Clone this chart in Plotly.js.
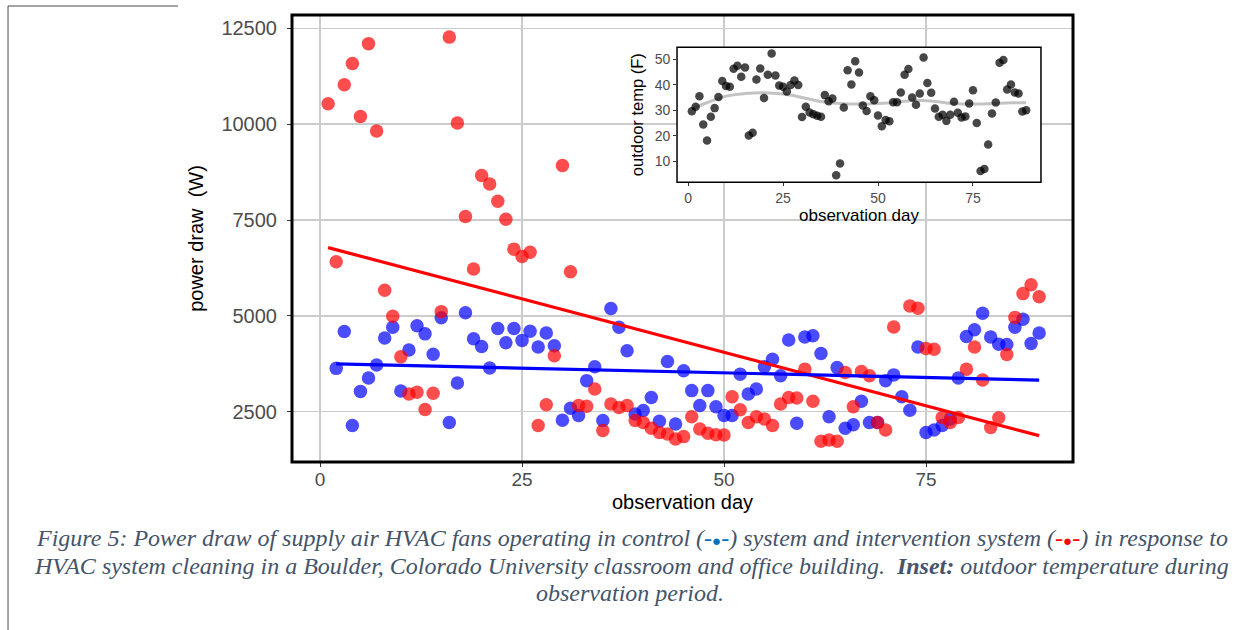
<!DOCTYPE html>
<html>
<head>
<meta charset="utf-8">
<script src="https://cdn.plot.ly/plotly-3.0.1.min.js"></script>
<style>
  html, body { margin: 0; padding: 0; background: #ffffff; }
  #chart { width: 1250px; height: 630px; }
</style>
</head>
<body>
<div id="chart"></div>
<script>
// Supply-air fan power draw, intervention system (red) by observation day
const interventionDays = [1,2,3,4,5,6,7,8,9,10,11,12,13,14,15,16,17,18,19,20,21,22,23,24,25,26,27,28,29,30,
  31,32,33,34,35,36,37,38,39,40,41,42,43,44,45,46,47,48,49,50,51,52,53,54,55,56,57,58,59,60,
  61,62,63,64,65,66,67,68,69,70,71,73,74,75,76,77,78,79,80,81,82,83,84,85,86,87,88,89];
const interventionPower = [10530,6410,11030,11580,10200,12100,9820,5670,4990,3930,2960,3010,2560,2980,5110,12270,10030,7590,6220,8660,
  8440,7990,7520,6740,6550,6660,2140,2680,3960,8920,6150,2660,2640,3090,2010,2700,2610,2660,2270,2220,
  2070,1960,1920,1790,1850,2370,2050,1940,1900,1890,2890,2550,2220,2370,2310,2140,2700,2870,2860,3610,
  2770,1730,1760,1730,3520,2630,3550,3440,2220,2020,4710,5260,5200,4150,4130,2350,2220,2350,3610,4190,
  3330,2090,2340,3990,4960,5580,5810,5500];

// Control system (blue)
const controlDays = [2,3,4,5,6,7,8,9,10,11,12,13,14,15,16,17,18,19,20,21,22,23,24,25,26,27,28,29,30,
  31,32,33,34,35,36,37,38,39,40,41,42,43,44,45,46,47,48,49,50,51,52,53,54,55,56,57,58,59,60,
  61,62,63,64,65,66,67,68,69,70,71,72,73,74,75,76,77,78,79,80,81,82,83,84,85,86,87,88,89];
const controlPower = [3630,4590,2140,3030,3380,3720,4420,4700,3040,4110,4740,4530,4000,4950,2220,3250,5080,4400,4200,3640,
  4670,4300,4670,4360,4600,4190,4550,4220,2280,2590,2400,3310,3670,2270,5190,4700,4090,2440,2530,2870,
  2250,3810,2180,3570,3050,2660,3050,2630,2400,2400,3480,2960,3090,3670,3870,3440,4370,2200,4450,4480,
  4020,2370,3650,2070,2160,2770,2220,2220,3310,3460,2890,2540,4190,1960,2020,2140,2310,3380,4460,4640,
  5070,4450,4260,4250,4700,4910,4280,4550];

// Linear trends (end points of each fitted line)
const interventionFitDays = [1, 89];
const interventionFit = [6780, 1875];
const controlFitDays = [2, 89];
const controlFit = [3745, 3325];

// Inset: outdoor temperature (F)
const tempDays = [1,2,3,4,5,6,7,8,9,10,11,12,13,14,15,16,17,18,19,20,21,22,23,24,25,26,27,28,29,30,
  31,32,33,34,35,36,37,38,39,40,41,42,43,44,45,46,47,48,49,50,51,52,53,54,55,56,57,58,59,60,
  61,62,63,64,65,66,67,68,69,70,71,72,73,74,75,76,77,78,79,80,81,82,83,84,85,86,87,88,89];
const outdoorTemp = [29.6,31.3,35.5,24.4,18.1,27.4,30.8,35.2,41.4,39.5,39.2,46.2,47.4,43.1,46.7,20.1,21.1,42.0,46.3,34.8,
  43.9,52.2,43.6,39.7,39.2,37.3,39.9,41.6,39.9,27.3,31.3,29.1,28.4,27.8,27.4,35.9,33.5,34.6,4.5,9.1,
  31.0,45.7,40.1,49.2,44.8,31.8,29.7,35.5,33.9,27.9,23.7,26.1,25.7,33.1,33.1,36.9,43.9,46.1,35.0,32.1,
  36.5,50.7,40.7,36.8,30.7,27.4,28.2,25.8,28.2,33.3,29.0,27.1,27.5,32.6,37.8,25.0,6.1,6.9,16.5,28.7,
  33.0,48.6,49.7,38.1,40.1,36.9,36.5,29.5,30.0];
const smoothDays = [1,5,10,15,20,25,30,35,40,45,50,55,60,65,70,75,80,85,89];
const smoothTemp = [30.6,32.9,35.5,36.5,36.8,36.3,35.0,33.4,32.6,32.4,32.6,33.1,33.9,33.4,32.6,32.4,32.6,32.9,32.9];

const xTicks = [0, 25, 50, 75];
const yTicks = [2500, 5000, 7500, 10000, 12500];
const insetYTicks = [10, 20, 30, 40, 50];

const RED = '#ff0000', BLUE = '#0000ff';

const traces = [
  { x: controlDays, y: controlPower, type: 'scatter', mode: 'markers',
    marker: { size: 13.5, color: 'rgba(0,0,255,0.7)', line: { width: 0 } }, hoverinfo: 'x+y' },
  { x: interventionDays, y: interventionPower, type: 'scatter', mode: 'markers',
    marker: { size: 13.5, color: 'rgba(255,0,0,0.7)', line: { width: 0 } }, hoverinfo: 'x+y' },
  { x: interventionFitDays, y: interventionFit, type: 'scatter', mode: 'lines',
    line: { color: RED, width: 3.2 }, hoverinfo: 'skip' },
  { x: controlFitDays, y: controlFit, type: 'scatter', mode: 'lines',
    line: { color: BLUE, width: 3.2 }, hoverinfo: 'skip' },
  { x: smoothDays, y: smoothTemp, xaxis: 'x2', yaxis: 'y2', type: 'scatter', mode: 'lines',
    line: { color: 'rgba(185,185,185,0.85)', width: 3, shape: 'spline' }, hoverinfo: 'skip' },
  { x: tempDays, y: outdoorTemp, xaxis: 'x2', yaxis: 'y2', type: 'scatter', mode: 'markers',
    marker: { size: 8.5, color: 'rgba(0,0,0,0.72)', line: { width: 0 } }, hoverinfo: 'x+y' }
];

const tickGray = '#4d4d4d';
const sans = 'Liberation Sans, Arial, sans-serif';
const serif = 'Liberation Serif, Times New Roman, serif';
const captionFont = { family: serif, size: 24, color: '#44546A' };

// small coloured marker glyphs used inside the caption
const blueMark = "<span style='color:#0070C0'>-<span style='font-size:15px'>●</span>-</span>";
const redMark = "<span style='color:#ff0000'>-<span style='font-size:15px'>●</span>-</span>";

const layout = {
  width: 1250, height: 630,
  margin: { l: 292, r: 177, t: 15, b: 168 },
  paper_bgcolor: '#ffffff', plot_bgcolor: '#ffffff',
  showlegend: false,
  font: { family: sans },
  xaxis: {
    range: [-3.47, 93.19], tickvals: xTicks, ticktext: xTicks.map(String),
    showgrid: true, gridcolor: '#cccccc', gridwidth: 1.4, zeroline: false,
    ticks: 'outside', ticklen: 4, tickcolor: '#333333', tickwidth: 1,
    ticklabelstandoff: -4,
    tickfont: { size: 19, color: tickGray, family: sans },
    title: { text: 'observation day', font: { size: 20, color: '#000000', family: sans }, standoff: 6 },
    showline: false
  },
  yaxis: {
    range: [1188, 12847], tickvals: yTicks, ticktext: yTicks.map(String),
    showgrid: true, gridcolor: '#cccccc', gridwidth: 1.4, zeroline: false,
    ticks: 'outside', ticklen: 4, tickcolor: '#333333', tickwidth: 1,
    ticklabelstandoff: 6,
    tickfont: { size: 20, color: tickGray, family: sans },
    title: { text: 'power draw  (W)', font: { size: 20, color: '#000000', family: sans }, standoff: 12 },
    showline: false
  },
  xaxis2: {
    domain: [0.493, 0.959], anchor: 'y2', range: [-2.9, 92.9],
    tickvals: xTicks, ticktext: xTicks.map(String),
    showgrid: false, zeroline: false,
    ticks: 'outside', ticklen: 3, tickcolor: '#333333',
    tickfont: { size: 14, color: tickGray, family: sans },
    title: { text: 'observation day', font: { size: 17, color: '#000000', family: sans }, standoff: 2 }
  },
  yaxis2: {
    domain: [0.626, 0.928], anchor: 'x2', range: [1.76, 54.7],
    tickvals: insetYTicks, ticktext: insetYTicks.map(String),
    showgrid: false, zeroline: false,
    ticks: 'outside', ticklen: 3, tickcolor: '#333333',
    tickfont: { size: 14, color: tickGray, family: sans },
    title: { text: 'outdoor temp (F)', font: { size: 16.5, color: '#000000', family: sans }, standoff: 6 }
  },
  shapes: [
    // main panel frame
    { type: 'rect', xref: 'paper', yref: 'paper', x0: 0, x1: 1, y0: 0, y1: 1,
      line: { color: '#000000', width: 3 }, fillcolor: 'rgba(0,0,0,0)', layer: 'above' },
    // inset frame
    { type: 'rect', xref: 'x2 domain', yref: 'y2 domain', x0: 0, x1: 1, y0: 0, y1: 1,
      line: { color: '#000000', width: 1.5 }, fillcolor: 'rgba(0,0,0,0)', layer: 'above' },
    // page border
    { type: 'line', xref: 'paper', yref: 'paper', x0: -0.3636, x1: -0.3636, y0: 1.0201, y1: -0.38,
      line: { color: '#4a4a4a', width: 1 } },
    { type: 'line', xref: 'paper', yref: 'paper', x0: -0.3636, x1: -0.146, y0: 1.0201, y1: 1.0201,
      line: { color: '#4a4a4a', width: 1 } }
  ],
  annotations: [
    { text: "<i>Figure 5: Power draw of supply air HVAC fans operating in control (" + blueMark + ") system and intervention system (" + redMark + ") in response to</i>",
      xref: 'paper', yref: 'paper', x: 0.4353, y: -0.170, xanchor: 'center', yanchor: 'middle',
      showarrow: false, font: captionFont },
    { text: "<i>HVAC system cleaning in a Boulder, Colorado University classroom and office building.  <b>Inset:</b> outdoor temperature during</i>",
      xref: 'paper', yref: 'paper', x: 0.4353, y: -0.2327, xanchor: 'center', yanchor: 'middle',
      showarrow: false, font: captionFont },
    { text: "<i>observation period.</i>",
      xref: 'paper', yref: 'paper', x: 0.4328, y: -0.293, xanchor: 'center', yanchor: 'middle',
      showarrow: false, font: captionFont }
  ]
};

Plotly.newPlot('chart', traces, layout, { staticPlot: true, displayModeBar: false });
</script>
</body>
</html>
